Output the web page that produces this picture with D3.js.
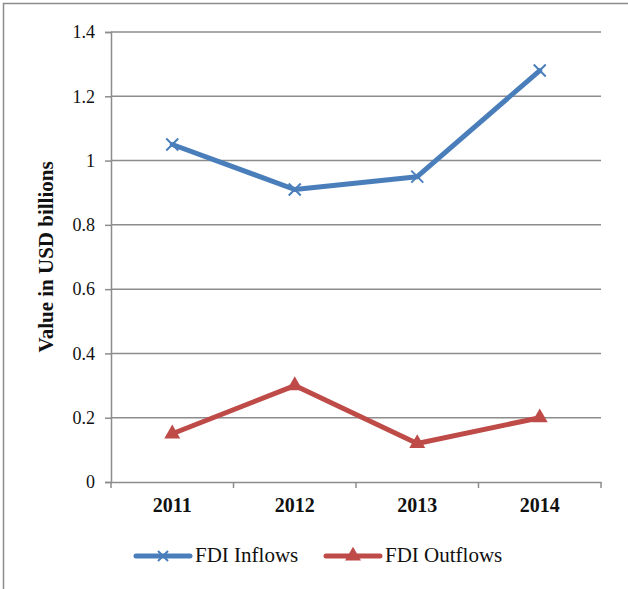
<!DOCTYPE html>
<html>
<head>
<meta charset="utf-8">
<script src="https://cdn.jsdelivr.net/npm/d3@7"></script>
<style>
  body { margin: 0; background: #fff; }
  svg { display: block; }
</style>
</head>
<body>
<div id="chart"></div>
<script>
// data
var years = ["2011", "2012", "2013", "2014"];
var inflows = [1.05, 0.91, 0.95, 1.28];
var outflows = [0.15, 0.30, 0.12, 0.20];
var yTicks = [0, 0.2, 0.4, 0.6, 0.8, 1, 1.2, 1.4];

var W = 628, H = 589;
var margin = {left: 111, right: 27, top: 32, bottom: 107};
var font = "'Liberation Serif'";

var svg = d3.select("#chart").append("svg")
    .attr("width", W)
    .attr("height", H);

// outer frame
svg.append("path")
    .attr("d", "M3.5," + H + "V3.5H" + W)
    .attr("fill", "none")
    .attr("stroke", "#8c8c8c")
    .attr("stroke-width", 1.5);

var x = d3.scaleBand().domain(years)
    .range([margin.left, W - margin.right]);
var y = d3.scaleLinear().domain([0, 1.4])
    .range([H - margin.bottom, margin.top]);

// gridlines
svg.append("g").selectAll("line")
    .data(yTicks.filter(function (d) { return d > 0; }))
    .enter().append("line")
    .attr("x1", margin.left).attr("x2", W - margin.right)
    .attr("y1", function (d) { return y(d); })
    .attr("y2", function (d) { return y(d); })
    .attr("stroke", "#8c8c8c")
    .attr("stroke-width", 1.5);

// y axis
var yAxis = svg.append("g")
    .attr("transform", "translate(" + margin.left + ",0)")
    .call(d3.axisLeft(y).tickValues(yTicks).tickSize(6).tickPadding(10)
        .tickFormat(function (d) { return d3.format("")(+d.toFixed(1)); }));
yAxis.selectAll("text")
    .attr("font-family", font).attr("font-size", 18).attr("fill", "#111");
yAxis.select(".domain").attr("stroke", "#8c8c8c").attr("stroke-width", 1.5);
yAxis.selectAll(".tick line").attr("stroke", "#8c8c8c").attr("stroke-width", 1.5);

// x axis
var xAxis = svg.append("g")
    .attr("transform", "translate(0," + y(0) + ")")
    .call(d3.axisBottom(x).tickSize(0).tickPadding(16));
xAxis.selectAll("text")
    .attr("font-family", font).attr("font-size", 20)
    .attr("font-weight", "bold").attr("fill", "#111");
xAxis.select(".domain").attr("stroke", "#8c8c8c").attr("stroke-width", 1.5);
// category boundary ticks
var bounds = years.map(function (d) { return x(d); }).concat([x.range()[1]]);
svg.append("g").selectAll("line")
    .data(bounds).enter().append("line")
    .attr("x1", function (d) { return d; })
    .attr("x2", function (d) { return d; })
    .attr("y1", y(0)).attr("y2", y(0) + 6)
    .attr("stroke", "#8c8c8c").attr("stroke-width", 1.5);

// y axis title
svg.append("text")
    .attr("transform", "translate(53," + ((y(0) + y(1.4)) / 2) + ") rotate(-90)")
    .attr("text-anchor", "middle")
    .attr("font-family", font).attr("font-size", 21)
    .attr("font-weight", "bold").attr("fill", "#111")
    .text("Value in USD billions");

var cx = function (d, i) { return x(years[i]) + x.bandwidth() / 2; };
var line = d3.line().x(cx).y(function (d) { return y(d); });

var blue = "#4a7ebb", red = "#be4b48";

svg.append("path").datum(inflows)
    .attr("d", line).attr("fill", "none")
    .attr("stroke", blue).attr("stroke-width", 5)
    .attr("stroke-linejoin", "round").attr("stroke-linecap", "round");
svg.append("path").datum(outflows)
    .attr("d", line).attr("fill", "none")
    .attr("stroke", red).attr("stroke-width", 5)
    .attr("stroke-linejoin", "round").attr("stroke-linecap", "round");

// x markers
var cross = "M-6,-6L6,6M-6,6L6,-6";
svg.append("g").selectAll("path")
    .data(inflows).enter().append("path")
    .attr("d", cross)
    .attr("transform", function (d, i) { return "translate(" + cx(d, i) + "," + y(d) + ")"; })
    .attr("stroke", blue).attr("stroke-width", 2).attr("fill", "none");

// triangle markers
var tri = d3.symbol().type(d3.symbolTriangle).size(110);
svg.append("g").selectAll("path")
    .data(outflows).enter().append("path")
    .attr("d", tri)
    .attr("transform", function (d, i) { return "translate(" + cx(d, i) + "," + y(d) + ")"; })
    .attr("fill", red);

// legend
var legend = [
    {name: "FDI Inflows", color: blue, marker: "x", x: 136},
    {name: "FDI Outflows", color: red, marker: "tri", x: 326}
];
var ly = 556;
var lg = svg.append("g").selectAll("g").data(legend).enter().append("g")
    .attr("transform", function (d) { return "translate(" + d.x + "," + ly + ")"; });
lg.append("line")
    .attr("x1", 0).attr("x2", 54).attr("y1", 0).attr("y2", 0)
    .attr("stroke", function (d) { return d.color; })
    .attr("stroke-width", 5).attr("stroke-linecap", "round");
lg.append("path")
    .attr("transform", "translate(27,0)")
    .attr("d", function (d) { return d.marker === "x" ? "M-5,-5L5,5M-5,5L5,-5" : tri(); })
    .attr("stroke", function (d) { return d.marker === "x" ? d.color : "none"; })
    .attr("stroke-width", 2)
    .attr("fill", function (d) { return d.marker === "x" ? "none" : d.color; });
lg.append("text")
    .attr("x", 59).attr("y", 6)
    .attr("font-family", font).attr("font-size", 21).attr("fill", "#111")
    .text(function (d) { return d.name; });
</script>
</body>
</html>
